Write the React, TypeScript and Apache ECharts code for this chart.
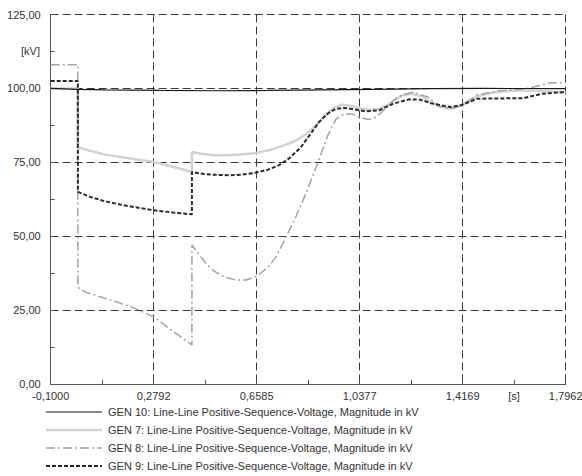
import React, { useEffect, useRef } from "react";
import * as echarts from "echarts";

const xTickLabels = ["-0,1000", "0,2792", "0,6585", "1,0377", "1,4169", "1,7962"];
const xStart = -0.1;
const xEnd = 1.7962;

const seriesNames = [
  "GEN 10: Line-Line Positive-Sequence-Voltage, Magnitude in kV",
  "GEN 7: Line-Line Positive-Sequence-Voltage, Magnitude in kV",
  "GEN 8: Line-Line Positive-Sequence-Voltage, Magnitude in kV",
  "GEN 9: Line-Line Positive-Sequence-Voltage, Magnitude in kV",
];

const gen10T = [-0.1, 0, 0.1, 0.3, 0.5, 0.7, 0.9, 1.1, 1.3, 1.5, 1.7962];
const gen10V = [100, 99.7, 99.5, 99.3, 99.2, 99.3, 99.5, 99.7, 99.9, 100, 99.9];

const gen7T = [-0.1, 0, 0, 0.1, 0.2, 0.28, 0.35, 0.42, 0.42, 0.46, 0.5, 0.55, 0.6, 0.65, 0.7, 0.75, 0.8, 0.84, 0.88, 0.91, 0.94, 0.97, 1.0, 1.04, 1.08, 1.11, 1.14, 1.17, 1.2, 1.23, 1.27, 1.3, 1.33, 1.37, 1.41, 1.44, 1.47, 1.53, 1.6, 1.74, 1.7962];
const gen7V = [100, 100, 80, 77.6, 76.2, 75.1, 73.5, 71.7, 78.5, 77.8, 77.4, 77.4, 77.6, 78.1, 79, 80.4, 82.2, 84.5, 87.8, 90.8, 93.3, 94.5, 94.2, 93.2, 92.7, 93.2, 94.3, 96.3, 97.8, 98.2, 97.2, 95.3, 93.8, 93.2, 94.2, 95.8, 97.3, 98.6, 99.3, 99, 98.6];

const gen8T = [-0.1, 0, 0, 0.03, 0.1, 0.2, 0.28, 0.34, 0.42, 0.42, 0.44, 0.47, 0.5, 0.54, 0.58, 0.62, 0.66, 0.7, 0.73, 0.76, 0.8, 0.84, 0.88, 0.92, 0.95, 0.98, 1.01, 1.04, 1.07, 1.1, 1.13, 1.16, 1.19, 1.235, 1.29, 1.33, 1.37, 1.41, 1.47, 1.55, 1.65, 1.7, 1.74, 1.7962];
const gen8V = [108, 108, 32.7, 31, 29, 26, 22.7, 18.5, 13.2, 47, 44.5, 41, 38.3, 36.2, 35.2, 35.2, 36.5, 39.5, 43, 48.5, 56, 64.5, 74, 84, 89.5, 91.4, 91.3, 90.2, 89.5, 90.3, 93, 95.8, 97.6, 98.8, 97, 94, 93.1, 94, 97.8, 99.2, 99.9, 101, 101.9, 101.9];

const gen9T = [-0.1, 0, 0, 0.045, 0.1, 0.167, 0.278, 0.35, 0.42, 0.42, 0.46, 0.5, 0.56, 0.6, 0.65, 0.7, 0.74, 0.78, 0.82, 0.86, 0.89, 0.92, 0.95, 0.98, 1.02, 1.06, 1.11, 1.16, 1.22, 1.26, 1.3, 1.37, 1.41, 1.47, 1.55, 1.64, 1.71, 1.7962];
const gen9V = [102.5, 102.5, 65, 63.3, 61.8, 60.5, 58.8, 58, 57.4, 71.7, 71.1, 70.8, 70.6, 70.8, 71.4, 72.5, 74, 76.5, 80, 85, 88.8, 91.5, 93.1, 93.4, 92.9, 92.2, 92.6, 94.8, 96.3, 96.2, 95, 93.7, 94.3, 96.5, 96.6, 96.7, 98.2, 98.8];

const FONT = "'Liberation Sans', Arial, sans-serif";

const toPairs = (t: number[], v: number[]) => t.map((x, i) => [x - xStart, v[i]]);

export default function App() {
  const ref = useRef<HTMLDivElement>(null);
  useEffect(() => {
    if (!ref.current) return;
    const chart = echarts.init(ref.current, null, { renderer: "svg" });
    const span = xEnd - xStart;
    const interval = span / 5;
    const styles = [
      { color: "#1a1a1a", width: 1.2, type: "solid" as any },
      { color: "#d2d2d2", width: 2.5, type: "solid" as any },
      { color: "#a3a3a3", width: 1.5, type: [9, 3, 2, 3] as any },
      { color: "#2b2b2b", width: 2, type: [4, 2] as any },
    ];
    const datas = [
      toPairs(gen10T, gen10V),
      toPairs(gen7T, gen7V),
      toPairs(gen8T, gen8V),
      toPairs(gen9T, gen9V),
    ];
    const drawOrder = [1, 2, 3, 0];
    const legendRows = [412, 430, 448, 466];
    const legendGraphics: any[] = [];
    seriesNames.forEach((name, i) => {
      legendGraphics.push({
        type: "line",
        shape: { x1: 46, y1: legendRows[i], x2: 102, y2: legendRows[i] },
        style: { stroke: styles[i].color, lineWidth: styles[i].width, lineDash: Array.isArray(styles[i].type) ? styles[i].type : null },
      });
      legendGraphics.push({
        type: "text",
        x: 108,
        y: legendRows[i],
        style: { text: name, font: `11px ${FONT}`, fill: "#333", verticalAlign: "middle", align: "left" },
      });
    });
    chart.setOption({
      animation: false,
      backgroundColor: "#fff",
      grid: { left: 50.7, right: 16.3, top: 14.5, bottom: 92, containLabel: false, outerBoundsMode: "none" } as any,
      xAxis: {
        type: "value",
        min: 0,
        max: span,
        interval,
        axisLine: { show: true, lineStyle: { color: "#555", width: 1 } },
        axisTick: { show: true, inside: true, length: 4, lineStyle: { color: "#555" } },
        minorTick: { show: true, splitNumber: 2, length: 4, lineStyle: { color: "#555" } },
        splitLine: { show: true, lineStyle: { color: "#3a3a3a", width: 1, type: [8, 4] } },
        axisLabel: {
          margin: 6,
          color: "#333",
          fontSize: 11,
          fontFamily: FONT,
          formatter: (val: number) => xTickLabels[Math.round(val / interval)] ?? "",
        },
      },
      yAxis: {
        type: "value",
        min: 0,
        max: 125,
        interval: 25,
        axisLine: { show: true, lineStyle: { color: "#555", width: 1 } },
        axisTick: { show: true, inside: true, length: 4, lineStyle: { color: "#555" } },
        minorTick: { show: true, splitNumber: 2, length: 4, lineStyle: { color: "#555" } },
        splitLine: { show: true, lineStyle: { color: "#3a3a3a", width: 1, type: [8, 4] } },
        axisLabel: {
          margin: 10,
          color: "#333",
          fontSize: 11,
          fontFamily: FONT,
          formatter: (val: number) => val.toFixed(2).replace(".", ","),
        },
      },
      series: drawOrder.map((i) => ({
        name: seriesNames[i],
        type: "line",
        data: datas[i],
        showSymbol: false,
        symbol: "none",
        smooth: false,
        lineStyle: styles[i],
        z: 2 + drawOrder.indexOf(i),
      })),
      graphic: [
        { type: "text", x: 40, y: 51, style: { text: "[kV]", font: `11px ${FONT}`, fill: "#333", align: "right", verticalAlign: "middle" } },
        { type: "text", x: 514, y: 396, style: { text: "[s]", font: `11px ${FONT}`, fill: "#333", align: "center", verticalAlign: "middle" } },
        ...legendGraphics,
      ],
    });
    return () => chart.dispose();
  }, []);
  return <div ref={ref} style={{ width: 582, height: 476, position: "absolute", left: 0, top: 0 }} />;
}
